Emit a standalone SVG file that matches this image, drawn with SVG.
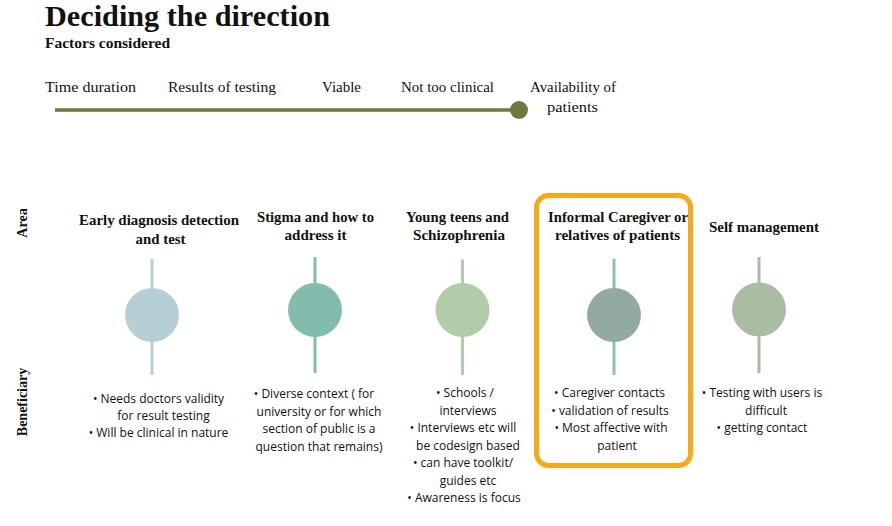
<svg xmlns="http://www.w3.org/2000/svg" width="892" height="526" viewBox="0 0 892 526">
<style>
.serif{font-family:"Liberation Serif","DejaVu Serif",serif;fill:#111;}
.ttl{font-size:30px;font-weight:bold;}
.sub{font-size:14px;font-weight:bold;}
.fac{font-size:15px;}
.hd{font-size:14.5px;font-weight:bold;text-anchor:middle;}
.ax{font-size:14px;font-weight:bold;text-anchor:middle;}
.bl{font-family:"Open Sans","Noto Sans",sans-serif;font-size:12px;fill:#111;text-anchor:middle;}
.stem{stroke-width:3;}
</style>
<rect width="892" height="526" fill="#ffffff"/>
<g id="title">
<text class="serif ttl" x="45" y="26" textLength="285" lengthAdjust="spacingAndGlyphs">Deciding the direction</text>
<text class="serif sub" x="45" y="48" textLength="125" lengthAdjust="spacingAndGlyphs">Factors  considered</text>
</g>
<g id="factors">
<text class="serif fac" x="45" y="92" textLength="91" lengthAdjust="spacingAndGlyphs">Time duration</text>
<text class="serif fac" x="168" y="92" textLength="108" lengthAdjust="spacingAndGlyphs">Results of testing</text>
<text class="serif fac" x="322" y="92" textLength="39" lengthAdjust="spacingAndGlyphs">Viable</text>
<text class="serif fac" x="401" y="92" textLength="93" lengthAdjust="spacingAndGlyphs">Not too clinical</text>
<text class="serif fac" x="530" y="92" textLength="86" lengthAdjust="spacingAndGlyphs">Availability of</text>
<text class="serif fac" x="547" y="111.5" textLength="51" lengthAdjust="spacingAndGlyphs">patients</text>
<line x1="55" y1="110" x2="519" y2="110" stroke="#6b7b3e" stroke-width="3.5"/>
<circle cx="519" cy="110" r="9" fill="#6b7b3e"/>
</g>
<g id="axis-labels">
<text class="serif ax" transform="translate(27,223) rotate(-90)">Area</text>
<text class="serif ax" transform="translate(27,402) rotate(-90)">Beneficiary</text>
</g>
<g id="highlight">
<rect x="536.5" y="195.5" width="154" height="270" rx="12" ry="12" fill="none" stroke="#f9a918" stroke-width="5"/>
</g>
<g id="connectors">
<line class="stem" x1="152" y1="259" x2="152" y2="375" stroke="#b5d0d4"/>
<line class="stem" x1="315" y1="257" x2="315" y2="373" stroke="#82bcad"/>
<line class="stem" x1="462.5" y1="259.5" x2="462.5" y2="375" stroke="#b1cca8"/>
<line class="stem" x1="614" y1="259" x2="614" y2="375" stroke="#8bc2b5"/>
<line class="stem" x1="759" y1="257" x2="759" y2="373" stroke="#aabca3"/>
</g>
<g id="col1">
<text class="serif hd" x="159" y="225" textLength="160" lengthAdjust="spacingAndGlyphs">Early diagnosis detection</text>
<text class="serif hd" x="160.5" y="244" textLength="50" lengthAdjust="spacingAndGlyphs">and test</text>
<circle cx="152" cy="315" r="27" fill="#b5d0d4"/>
<text class="bl" x="158.5" y="403">•  Needs doctors validity</text>
<text class="bl" x="163.5" y="420">for result testing</text>
<text class="bl" x="158.5" y="437">•  Will be clinical in nature</text>
</g>
<g id="col2">
<text class="serif hd" x="315.5" y="222" textLength="117" lengthAdjust="spacingAndGlyphs">Stigma and how to</text>
<text class="serif hd" x="315.5" y="240" textLength="62" lengthAdjust="spacingAndGlyphs">address it</text>
<circle cx="315" cy="310" r="27" fill="#82bcad"/>
<text class="bl" x="314" y="398">•  Diverse context ( for</text>
<text class="bl" x="319" y="415.5">university or for which</text>
<text class="bl" x="319" y="433">section of public is a</text>
<text class="bl" x="319" y="450.5">question that remains)</text>
</g>
<g id="col3">
<text class="serif hd" x="457.5" y="222" textLength="103" lengthAdjust="spacingAndGlyphs">Young teens and</text>
<text class="serif hd" x="459" y="240" textLength="92" lengthAdjust="spacingAndGlyphs">Schizophrenia</text>
<circle cx="462.5" cy="310" r="27" fill="#b1cca8"/>
<text class="bl" x="465" y="397">•  Schools /</text>
<text class="bl" x="468" y="414.5">interviews</text>
<text class="bl" x="463" y="432">•  Interviews etc will</text>
<text class="bl" x="468" y="449.5">be codesign based</text>
<text class="bl" x="463" y="467">•  can have toolkit/</text>
<text class="bl" x="468" y="484.5">guides etc</text>
<text class="bl" x="464" y="502">•  Awareness is focus</text>
</g>
<g id="col4">
<text class="serif hd" x="618" y="221.5" textLength="140" lengthAdjust="spacingAndGlyphs">Informal Caregiver or</text>
<text class="serif hd" x="617.5" y="240" textLength="125" lengthAdjust="spacingAndGlyphs">relatives of patients</text>
<circle cx="614" cy="315" r="27" fill="#93aaa2"/>
<text class="bl" x="609.5" y="397">•  Caregiver contacts</text>
<text class="bl" x="610" y="414.5">•  validation of results</text>
<text class="bl" x="611" y="432">•  Most affective with</text>
<text class="bl" x="617" y="449.5">patient</text>
</g>
<g id="col5">
<text class="serif hd" x="764" y="231.5" textLength="110" lengthAdjust="spacingAndGlyphs">Self management</text>
<circle cx="759" cy="309.5" r="27" fill="#aabca3"/>
<text class="bl" x="762" y="397">•  Testing with users is</text>
<text class="bl" x="766" y="414.5">difficult</text>
<text class="bl" x="762" y="432">•  getting contact</text>
</g>
</svg>
